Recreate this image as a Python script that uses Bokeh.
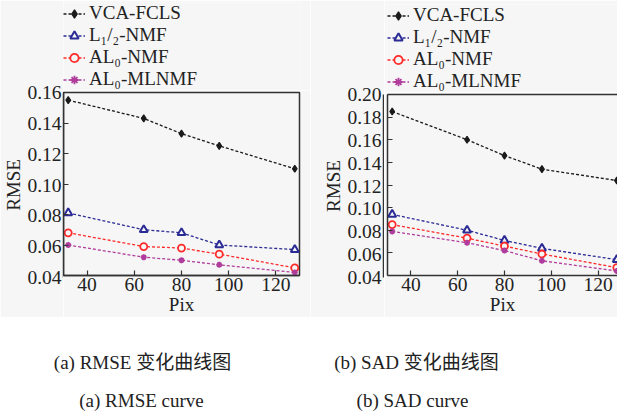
from bokeh.plotting import figure
from bokeh.models import (Range1d, Legend, LegendItem, FixedTicker,
                          PrintfTickFormatter, CustomJSTickFormatter, Label,
                          LinearAxis)
from bokeh.layouts import row, column
from bokeh.embed import file_html
from bokeh.resources import INLINE

# ---- data -------------------------------------------------------------
pix = [32, 64, 80, 96, 128]

series_names = ["VCA-FCLS", "L\u2081/\u2082-NMF", "AL\u2080-NMF", "AL\u2080-MLNMF"]

rmse_vca = [0.155, 0.143, 0.133, 0.125, 0.110]
rmse_l12 = [0.081, 0.070, 0.068, 0.060, 0.057]
rmse_al0 = [0.068, 0.059, 0.058, 0.054, 0.045]
rmse_ml = [0.060, 0.052, 0.050, 0.047, 0.042]

sad_vca = [0.185, 0.160, 0.146, 0.134, 0.124]
sad_l12 = [0.094, 0.080, 0.071, 0.064, 0.054]
sad_al0 = [0.085, 0.073, 0.066, 0.059, 0.047]
sad_ml = [0.079, 0.069, 0.062, 0.053, 0.044]

x_ticks = [40, 60, 80, 100, 120]
rmse_ticks = [0.04, 0.06, 0.08, 0.10, 0.12, 0.14, 0.16]
sad_ticks = [0.04, 0.06, 0.08, 0.10, 0.12, 0.14, 0.16, 0.18, 0.20]

captions_a = ["(a) RMSE 变化曲线图", "(a) RMSE curve"]
captions_b = ["(b) SAD 变化曲线图", "(b) SAD curve"]

# ---- styling ----------------------------------------------------------
SERIF = "Liberation Serif, DejaVu Serif, serif"
CAPTION_FONT = "Liberation Serif, Noto Sans CJK SC, serif"
BG = "#f6f6f6"
AXIS_COLOR = "#333333"
TEXT_COLOR = "#222222"
TOP_H = 317          # height of the chart block (legend + plot)
BOTTOM_BORDER = 40   # room for x tick labels and "Pix"

styles = [
    dict(color="#1a1a1a", marker="diamond", size=7, fill=True, lw=1.2),
    dict(color="#2b2b96", marker="triangle", size=8, fill=False, lw=2),
    dict(color="#ff2a2a", marker="circle", size=7, fill=False, lw=1.8),
    dict(color="#b03c9c", marker="asterisk", size=6, fill=True, lw=1.8),
]


def draw_series(p, xs, ys, st):
    ln = p.line(xs, ys, line_color=st["color"], line_width=1.3,
                line_dash="3 2")
    mk = p.scatter(xs, ys, marker=st["marker"], size=st["size"],
                   line_color=st["color"], line_width=st["lw"],
                   fill_color=st["color"] if st["fill"] else BG)
    return ln, mk


def style_axis(ax):
    ax.axis_line_color = AXIS_COLOR
    ax.axis_line_width = 1.5
    ax.major_tick_line_color = AXIS_COLOR
    ax.major_tick_line_width = 1.2
    ax.major_tick_in = 5
    ax.major_tick_out = 0
    ax.minor_tick_line_color = None
    ax.major_label_text_font = SERIF
    ax.major_label_text_font_size = "19.5px"
    ax.major_label_text_color = TEXT_COLOR
    ax.axis_label_text_font = SERIF
    ax.axis_label_text_font_size = "19px"
    ax.axis_label_text_font_style = "normal"
    ax.axis_label_text_color = TEXT_COLOR
    ax.major_label_standoff = 2
    ax.axis_label_standoff = 0


def make_y_axis(y_range, y_ticks, width, frame_top):
    """Tall narrow strip carrying the y tick labels and the axis title."""
    f = figure(width=width, height=TOP_H, x_range=Range1d(0, 1),
               y_range=y_range, output_backend="svg", toolbar_location=None,
               x_axis_type=None, min_border_left=width - 1,
               min_border_right=0, min_border_top=frame_top,
               min_border_bottom=BOTTOM_BORDER, outline_line_color=None,
               background_fill_color=BG, border_fill_color=BG)
    f.xgrid.visible = False
    f.ygrid.visible = False
    ya = f.left[0]
    style_axis(ya)
    ya.major_tick_in = 0
    ya.ticker = FixedTicker(ticks=y_ticks)
    ya.formatter = PrintfTickFormatter(format="%.2f")
    ya.axis_label = "RMSE"
    return f


def make_legend_strip(width, height, left, top, series):
    """Key for the four methods, shown above a chart.

    The strip's own view range lies away from the data, so only the
    legend entries show here."""
    g = figure(width=width, height=height, output_backend="svg",
               x_range=Range1d(0, 1), y_range=Range1d(0, 1),
               toolbar_location=None, x_axis_type=None, y_axis_type=None,
               min_border_left=left, min_border_top=top, min_border_right=0,
               min_border_bottom=0, outline_line_color=None,
               background_fill_color=BG, border_fill_color=BG)
    g.xgrid.visible = False
    g.ygrid.visible = False
    items = []
    for name, ys, st in zip(series_names, series, styles):
        ln, mk = draw_series(g, pix, ys, st)
        items.append(LegendItem(label=name, renderers=[ln, mk]))
    legend = Legend(items=items, location="top_left", orientation="vertical",
                    margin=0, padding=0, spacing=0,
                    glyph_width=22, glyph_height=21, label_height=21,
                    label_standoff=4, label_text_font=SERIF,
                    label_text_font_size="19px", label_text_color=TEXT_COLOR,
                    border_line_color=None, background_fill_alpha=0)
    g.add_layout(legend, "center")
    return g


def make_chart(series, y_range, y_ticks, width, height, x_end, border_right,
               boxed):
    p = figure(width=width, height=height,
               x_range=Range1d(30, x_end), y_range=y_range,
               output_backend="svg", toolbar_location=None,
               min_border_left=0, min_border_right=border_right,
               min_border_top=2, min_border_bottom=BOTTOM_BORDER,
               background_fill_color=BG, border_fill_color=BG)
    p.xgrid.visible = False
    p.ygrid.visible = False

    xa = p.below[0]
    ya = p.left[0]
    style_axis(xa)
    style_axis(ya)
    xa.ticker = FixedTicker(ticks=x_ticks)
    xa.axis_label = "Pix"
    # inward y ticks only; their labels sit on the strip to the left
    ya.ticker = FixedTicker(ticks=y_ticks)
    ya.formatter = CustomJSTickFormatter(code="return ''")
    ya.major_label_standoff = 0

    if boxed:
        p.outline_line_color = AXIS_COLOR
        p.outline_line_width = 1.5
    else:
        # frame runs off the right edge: only the top rule is drawn
        p.outline_line_color = None
        top = LinearAxis(ticker=FixedTicker(ticks=[]),
                         major_label_text_font_size="0px",
                         major_label_standoff=0, major_tick_in=0,
                         major_tick_out=0, axis_line_color=AXIS_COLOR,
                         axis_line_width=1.5)
        p.add_layout(top, "above")

    for ys, st in zip(series, styles):
        draw_series(p, pix, ys, st)
    return p


def make_block(series, y_end, y_ticks, axis_w, width, frame_top, legend_left,
               x_end, border_right, boxed):
    y_range = Range1d(0.04, y_end)
    yax = make_y_axis(y_range, y_ticks, axis_w, frame_top)
    strip_h = frame_top - 2
    strip = make_legend_strip(width - axis_w, strip_h, legend_left,
                              strip_h - 88, series)
    chart = make_chart(series, y_range, y_ticks, width - axis_w,
                       TOP_H - strip_h, x_end, border_right, boxed)
    return row(yax, column(strip, chart))


rmse_series = [rmse_vca, rmse_l12, rmse_al0, rmse_ml]
sad_series = [sad_vca, sad_l12, sad_al0, sad_ml]

block_rmse = make_block(rmse_series, 0.16, rmse_ticks, axis_w=63, width=310,
                        frame_top=92, legend_left=0, x_end=130,
                        border_right=11, boxed=True)
block_sad = make_block(sad_series, 0.20, sad_ticks, axis_w=74, width=307,
                       frame_top=94, legend_left=3, x_end=128.3,
                       border_right=0, boxed=False)


def make_caption(width, lines, centers):
    c = figure(width=width, height=98, x_range=Range1d(0, width),
               y_range=Range1d(0, 98), output_backend="svg",
               toolbar_location=None, x_axis_type=None, y_axis_type=None,
               min_border=0, outline_line_color=None,
               background_fill_color="white", border_fill_color="white")
    c.xgrid.visible = False
    c.ygrid.visible = False
    for text, (cx, cy) in zip(lines, centers):
        c.add_layout(Label(x=cx, y=cy, text=text, text_align="center",
                           text_baseline="middle", text_font=CAPTION_FONT,
                           text_font_size="19px", text_color=TEXT_COLOR))
    return c


cap_a = make_caption(310, captions_a, [(142, 53), (141, 15)])
cap_b = make_caption(307, captions_b, [(106, 53), (102, 15)])

layout = column(row(block_rmse, block_sad), row(cap_a, cap_b))

with open("out.html", "w") as f:
    f.write(file_html(layout, INLINE))
